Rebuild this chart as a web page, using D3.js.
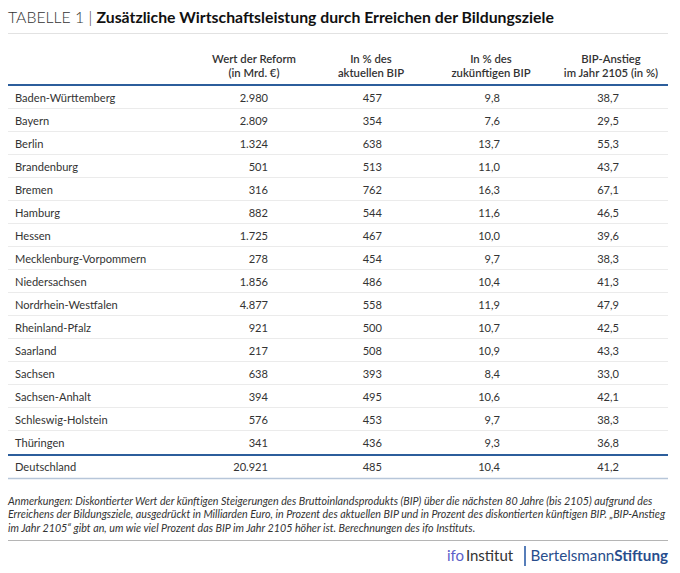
<!DOCTYPE html>
<html><head><meta charset="utf-8">
<script src="https://cdn.jsdelivr.net/npm/d3@7"></script>
<style>
html,body{margin:0;padding:0;background:#fff;}
svg{display:block;font-family:Lato,"Open Sans",sans-serif;}
</style></head>
<body>
<svg id="chart" width="680" height="573"></svg>
<script>
const states = ["Baden-Württemberg","Bayern","Berlin","Brandenburg","Bremen","Hamburg","Hessen","Mecklenburg-Vorpommern","Niedersachsen","Nordrhein-Westfalen","Rheinland-Pfalz","Saarland","Sachsen","Sachsen-Anhalt","Schleswig-Holstein","Thüringen"];
const wertReform = [2980,2809,1324,501,316,882,1725,278,1856,4877,921,217,638,394,576,341];
const aktuellBIP = [457,354,638,513,762,544,467,454,486,558,500,508,393,495,453,436];
const zukuenftigBIP = [9.8,7.6,13.7,11.0,16.3,11.6,10.0,9.7,10.4,11.9,10.7,10.9,8.4,10.6,9.7,9.3];
const anstieg2105 = [38.7,29.5,55.3,43.7,67.1,46.5,39.6,38.3,41.3,47.9,42.5,43.3,33.0,42.1,38.3,36.8];
const totalLabel = "Deutschland";
const totalValues = [20921,485,10.4,41.2];
const headers = [["Wert der Reform","(in Mrd. €)"],["In % des","aktuellen BIP"],["In % des","zukünftigen BIP"],["BIP-Anstieg","im Jahr 2105 (in %)"]];
const notes = [
 "Anmerkungen: Diskontierter Wert der künftigen Steigerungen des Bruttoinlandsprodukts (BIP) über die nächsten 80 Jahre (bis 2105) aufgrund des",
 "Erreichens der Bildungsziele, ausgedrückt in Milliarden Euro, in Prozent des aktuellen BIP und in Prozent des diskontierten künftigen BIP. „BIP-Anstieg",
 "im Jahr 2105“ gibt an, um wie viel Prozent das BIP im Jahr 2105 höher ist. Berechnungen des ifo Instituts."
];

const de = d3.formatLocale({decimal:",",thousands:".",grouping:[3],currency:["","€"]});
const fmts = [de.format(",d"), de.format(",d"), de.format(",.1f"), de.format(",.1f")];

const svg = d3.select("#chart");
const left = 8, right = 668;
const txt = "#333";
const blue = "#2c5e9c";
const fs = 11.1;

// title
const title = svg.append("text").attr("x",left).attr("y",23).attr("font-size",15.8).attr("fill","#222");
title.append("tspan").attr("font-weight",300).attr("fill","#333").text("TABELLE 1 | ");
title.append("tspan").attr("font-weight",700).attr("fill","#111").text("Zusätzliche Wirtschaftsleistung durch Erreichen der Bildungsziele");
svg.append("line").attr("x1",left).attr("x2",right).attr("y1",33.5).attr("y2",33.5).attr("stroke","#e2e2e2").attr("stroke-width",1);

// columns
const colRight = [268, 382, 500, 619];
const colCenter = [254, 371, 491, 611];

// header
headers.forEach((h,i)=>{
  h.forEach((line,j)=>{
    svg.append("text").attr("x",colCenter[i]).attr("y",63+j*13.5)
      .attr("text-anchor","middle").attr("font-size",11.3).attr("font-weight",600).attr("fill",txt).text(line);
  });
});

const y = d3.scaleBand().domain(states).range([86,454]);

// separators
svg.selectAll("line.sep").data(states.slice(0,-1)).join("line")
  .attr("x1",left).attr("x2",right)
  .attr("y1",d=>y(d)+y.bandwidth()-0.5).attr("y2",d=>y(d)+y.bandwidth()-0.5)
  .attr("stroke","#ebebeb").attr("stroke-width",1);

// rows
const rows = svg.selectAll("g.row").data(states).join("g").attr("class","row")
  .attr("transform",d=>`translate(0,${y(d)+y.bandwidth()/2+4})`);
rows.append("text").attr("x",15).attr("font-size",fs).attr("fill",txt).text(d=>d);
const cols = [wertReform, aktuellBIP, zukuenftigBIP, anstieg2105];
cols.forEach((arr,ci)=>{
  rows.append("text").attr("x",colRight[ci]).attr("text-anchor","end")
    .attr("font-size",fs).attr("fill",txt).text((d,i)=>fmts[ci](arr[i]));
});

// blue lines
svg.append("line").attr("x1",left).attr("x2",right).attr("y1",85).attr("y2",85).attr("stroke",blue).attr("stroke-width",2);
svg.append("line").attr("x1",left).attr("x2",right).attr("y1",455).attr("y2",455).attr("stroke",blue).attr("stroke-width",2);

// total row
const ty = 471;
svg.append("text").attr("x",15).attr("y",ty).attr("font-size",fs).attr("fill",txt).text(totalLabel);
totalValues.forEach((v,ci)=>{
  svg.append("text").attr("x",colRight[ci]).attr("y",ty).attr("text-anchor","end")
    .attr("font-size",fs).attr("fill",txt).text(fmts[ci](v));
});
svg.append("line").attr("x1",left).attr("x2",right).attr("y1",478.5).attr("y2",478.5).attr("stroke","#b7c6d9").attr("stroke-width",1.5);

// notes: fit first line to reference width (ends near x=658)
const noteSel = svg.selectAll("text.note").data(notes).join("text").attr("class","note")
  .attr("x",left).attr("y",(d,i)=>504.5+i*13.5).attr("font-size",10)
  .attr("font-style","italic").attr("fill",txt).text(d=>d);
const w0 = noteSel.nodes()[0].getComputedTextLength();
const w1 = noteSel.nodes()[1].getComputedTextLength();
const nfs = Math.min(10*650/w0, 10*658/w1);
noteSel.attr("font-size",nfs);
svg.append("line").attr("x1",left).attr("x2",right).attr("y1",540.5).attr("y2",540.5).attr("stroke","#b5b5b5").attr("stroke-width",1);

// logos
const logo = svg.append("text").attr("x",447).attr("y",561).attr("font-size",15);
logo.append("tspan").attr("fill","#5b5fc9").attr("font-weight",400).text("ifo");
logo.append("tspan").attr("fill","#333").attr("dx",2).text("Institut");
svg.append("line").attr("x1",525).attr("x2",525).attr("y1",546).attr("y2",566).attr("stroke","#2d5ea8").attr("stroke-width",1.6);
const bs = svg.append("text").attr("x",668).attr("y",561).attr("text-anchor","end").attr("font-size",15.2).attr("fill","#284d8c");
bs.append("tspan").attr("font-weight",400).text("Bertelsmann");
bs.append("tspan").attr("font-weight",700).text("Stiftung");
</script>
</body></html>
